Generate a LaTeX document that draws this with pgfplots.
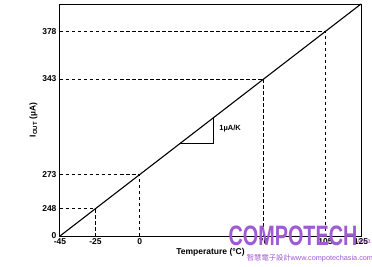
\documentclass[border=0pt]{standalone}
\usepackage{pgfplots}
\pgfplotsset{compat=1.18}
\usepackage{fontspec}
\setmainfont{Liberation Sans}
\newfontfamily\cjk{Noto Sans CJK TC}
\definecolor{wm}{RGB}{160,90,210}
\begin{document}
\begin{tikzpicture}[x=1pt,y=1pt]
\useasboundingbox (-60,-30) rectangle (312,236);
\begin{axis}[
  scale only axis, width=301pt, height=232pt,
  at={(0,0)}, anchor=south west,
  xmin=-45, xmax=125, ymin=228, ymax=398,
  xtick={-45,-25,0,70,105,125},
  ytick={228,248,273,343,378},
  yticklabels={0,248,273,343,378},
  major tick length=0pt,
  /pgf/number format/assume math mode=true,
  tick label style={font=\fontsize{8.5}{9}\selectfont\bfseries},
  xticklabel style={yshift=1pt},
  axis line style={line width=1pt},
  xlabel={Temperature (°C)},
  ylabel={I\textsubscript{OUT} (µA)},
  label style={font=\fontsize{8.5}{10}\selectfont\bfseries},
  xlabel style={yshift=3pt},
  ylabel style={yshift=-2pt},
  clip=false,
]
\addplot[black, line width=1.1pt] coordinates {(-45,228) (125,398)};
\addplot[black, line width=0.9pt, dash pattern=on 3.5pt off 2.5pt] coordinates {(-45,248) (-25,248) (-25,228)};
\addplot[black, line width=0.9pt, dash pattern=on 3.5pt off 2.5pt] coordinates {(-45,273) (0,273) (0,228)};
\addplot[black, line width=0.9pt, dash pattern=on 3.5pt off 2.5pt] coordinates {(-45,343) (70,343) (70,228)};
\addplot[black, line width=0.9pt, dash pattern=on 3.5pt off 2.5pt] coordinates {(-45,378) (105,378) (105,228)};
\addplot[black, line width=0.8pt] coordinates {(22.5,295.5) (41.5,295.5) (41.5,314.5)};
\node[anchor=west, font=\fontsize{7.5}{9}\selectfont\bfseries] at (axis cs:43,307) {1µA/K};
\end{axis}
\node[wm, font=\fontsize{33}{33}\selectfont\bfseries, xscale=0.6, yscale=0.85] at (233,0) {COMPOTECH};
\node[wm, font=\fontsize{7}{8}\selectfont] at (304,-5) {Asia};
\node[wm, font=\fontsize{7.3}{8}\selectfont] at (250,-22) {{\cjk 智慧電子設計}www.compotechasia.com};
\end{tikzpicture}
\end{document}
